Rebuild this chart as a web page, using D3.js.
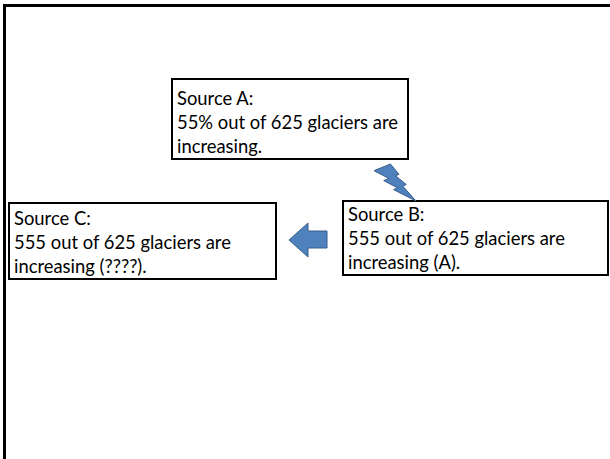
<!DOCTYPE html>
<html>
<head>
<meta charset="utf-8">
<script src="https://d3js.org/d3.v7.min.js"></script>
<style>
  body { margin: 0; background: #fff; }
  svg { display: block; }
</style>
</head>
<body>
<div id="container"></div>
<script>
// text of the three source boxes
var sourceIds = ["A", "B", "C"];
var sourceLines = [
    ["Source A:", "55% out of 625 glaciers are", "increasing."],
    ["Source B:", "555 out of 625 glaciers are", "increasing (A)."],
    ["Source C:", "555 out of 625 glaciers are", "increasing (????)."]
];

var Diagram = {
    WIDTH: 610,
    HEIGHT: 459,
    FONT: "Lato, 'Open Sans', sans-serif",
    FONT_SIZE: 18.4,
    LINE_HEIGHT: 24,
    BLUE: "#4f81bd",
    BLUE_DARK: "#385d8a"
};

// box layout (x, y, w, h) keyed by source id
var boxLayout = {
    A: [172, 79, 236, 80],
    B: [343, 201, 265, 74],
    C: [9, 203, 267, 76]
};

var svgContainer = d3.select("#container").append("svg")
        .attr("width", Diagram.WIDTH)
        .attr("height", Diagram.HEIGHT);

// page frame: only top and left edges show
svgContainer.append("path")
        .attr("d", "M4.5," + Diagram.HEIGHT + "V5.5H" + Diagram.WIDTH)
        .style("fill", "none")
        .style("stroke", "black")
        .style("stroke-width", 3);

var x = d3.scaleLinear().domain([0, Diagram.WIDTH]).range([0, Diagram.WIDTH]);
var y = d3.scaleLinear().domain([0, Diagram.HEIGHT]).range([0, Diagram.HEIGHT]);

for (var i = 0; i < sourceIds.length; i++) {
    var b = boxLayout[sourceIds[i]];
    var n = sourceLines[i].length;
    var g = svgContainer.append("g").attr("id", "box" + sourceIds[i]);
    g.append("rect")
            .attr("x", x(b[0]))
            .attr("y", y(b[1]))
            .attr("width", b[2])
            .attr("height", b[3])
            .style("fill", "white")
            .style("stroke", "black")
            .style("stroke-width", 2);
    // text sits on the bottom of the box (last line just above the border)
    g.selectAll("text").data(sourceLines[i]).enter().append("text")
            .attr("x", x(b[0]) + 5)
            .attr("y", function (d, j) { return y(b[1] + b[3]) - 6 - (n - 1 - j) * Diagram.LINE_HEIGHT; })
            .attr("font-family", Diagram.FONT)
            .attr("font-size", Diagram.FONT_SIZE + "px")
            .attr("fill", "black")
            .text(function (d) { return d; });
}

// lightning bolt between A and B (office shape outline, 21600 grid)
var bolt = [[8472,0],[12860,6080],[11050,6797],[16577,12007],[14767,12877],[21600,21600],
            [10012,14915],[12222,13987],[5022,9705],[7602,8382],[0,3890]];
var bx = d3.scaleLinear().domain([0, 21600]).range([374, 416]);
var by = d3.scaleLinear().domain([0, 21600]).range([164, 201]);
svgContainer.append("path")
        .attr("d", d3.line().x(function (d) { return bx(d[0]); }).y(function (d) { return by(d[1]); }).curve(d3.curveLinearClosed)(bolt))
        .style("fill", Diagram.BLUE)
        .style("stroke", Diagram.BLUE_DARK)
        .style("stroke-width", 1);

// left arrow from B to C
var arrow = [[289,240],[308,223],[308,231],[327,231],[327,248],[308,248],[308,257]];
svgContainer.append("path")
        .attr("d", d3.line().x(function (d) { return x(d[0]); }).y(function (d) { return y(d[1]); }).curve(d3.curveLinearClosed)(arrow))
        .style("fill", Diagram.BLUE)
        .style("stroke", Diagram.BLUE_DARK)
        .style("stroke-width", 1);
</script>
</body>
</html>
